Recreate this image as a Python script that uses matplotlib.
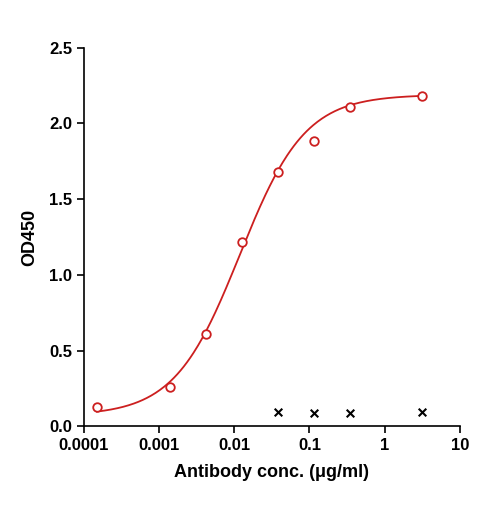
import numpy as np
import matplotlib
matplotlib.use("Agg")
import matplotlib.pyplot as plt

plt.rcParams["font.family"] = ["Liberation Sans", "DejaVu Sans"]
plt.rcParams["font.weight"] = "bold"

# measured points
conc = [0.000149, 0.00139, 0.00419, 0.0126, 0.038, 0.115, 0.344, 3.13]
od = [0.126, 0.26, 0.61, 1.22, 1.68, 1.885, 2.11, 2.18]
# negative control
neg_conc = [0.038, 0.115, 0.344, 3.13]
neg_od = [0.095, 0.09, 0.09, 0.095]

# 4PL fit parameters
bottom, top, ec50, hill = 0.07, 2.19, 0.0118, 1.0

fig = plt.figure(figsize=(4.85, 5.08), dpi=100)
ax = fig.add_axes([0.173, 0.161, 0.775, 0.745])

xs = np.logspace(np.log10(conc[0]), np.log10(conc[-1]), 300)
ys = bottom + (top - bottom) / (1 + (ec50 / xs) ** hill)
ax.plot(xs, ys, color="#cc1f1f", lw=1.3)
ax.scatter(conc, od, s=38, facecolors="white", edgecolors="#cc1f1f", linewidths=1.3, zorder=3)
ax.scatter(neg_conc, neg_od, marker="x", s=30, color="black", linewidths=1.5, zorder=3)

ax.set_xscale("log")
ax.set_xlim(0.0001, 10)
ax.set_ylim(0, 2.5)
ax.set_xticks([0.0001, 0.001, 0.01, 0.1, 1, 10])
ax.set_xticklabels(["0.0001", "0.001", "0.01", "0.1", "1", "10"])
ax.xaxis.set_minor_locator(matplotlib.ticker.NullLocator())
ax.set_yticks([0, 0.5, 1.0, 1.5, 2.0, 2.5])
ax.set_yticklabels(["0.0", "0.5", "1.0", "1.5", "2.0", "2.5"])
ax.spines["top"].set_visible(False)
ax.spines["right"].set_visible(False)
for s in ("left", "bottom"):
    ax.spines[s].set_linewidth(1.2)
ax.tick_params(width=1.2, length=5, labelsize=12)
ax.set_xlabel("Antibody conc. (\u03bcg/ml)", fontsize=13, fontweight="bold", labelpad=8)
ax.set_ylabel("OD450", fontsize=13, fontweight="bold", labelpad=8)

fig.savefig("out.png", dpi=100)
